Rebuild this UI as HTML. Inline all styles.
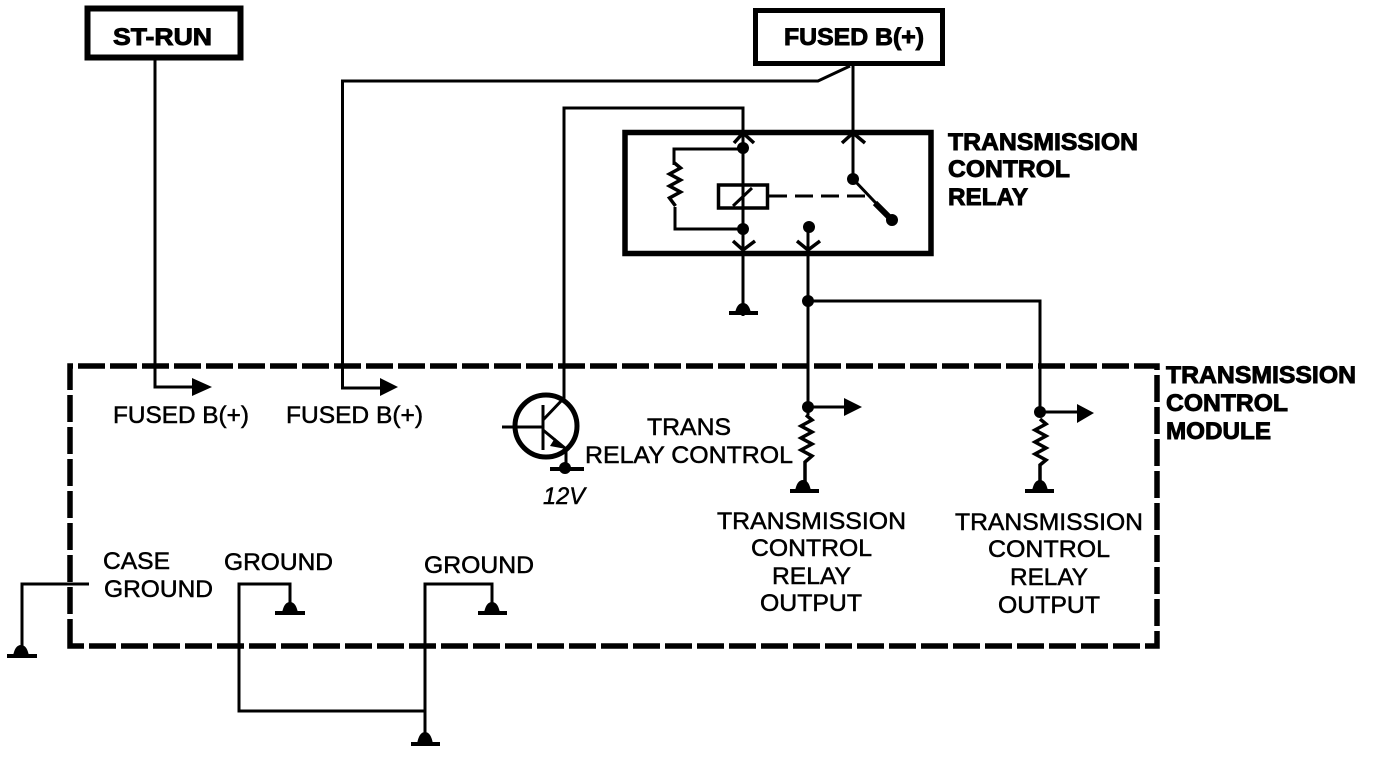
<!DOCTYPE html>
<html><head><meta charset="utf-8"><style>
html,body{margin:0;padding:0;background:#fff}
svg{display:block}
text{font-family:"Liberation Sans",sans-serif;font-size:24px;fill:#000;stroke:#000;stroke-width:.5px}
.b{font-weight:bold;stroke-width:.9px}
</style></head><body>
<svg width="1376" height="762" viewBox="0 0 1376 762" xmlns="http://www.w3.org/2000/svg">
<g fill="none" stroke="#000" stroke-width="3">
<!-- boxes -->
<rect x="87.500" y="8.500" width="153" height="49" stroke-width="6"/>
<rect x="755.500" y="10.500" width="187" height="53" stroke-width="5"/>
<rect x="625" y="132.500" width="306" height="121" stroke-width="5.500"/>
<path d="M70 646V366H1157V646Z" stroke-width="5.500" stroke-dasharray="27 5"/>
<!-- wires -->
<path d="M155 58V387H195"/>
<path d="M853 65V179M850 66L818 81H342.500V388H382"/>
<path d="M564 400V108H743V316"/>
<path d="M743 149H674V165M675 207V229H743"/>
<path d="M674.500 163l6 5l-11 6l11 6l-11 6l11 6l-11 6l6 8" stroke-width="3.500"/>
<rect x="718.500" y="185" width="49" height="23" stroke-width="3.500"/>
<path d="M733 206L752 188"/>
<path d="M769 196H872" stroke-dasharray="18 8"/>
<path d="M853 179L892 220"/><path d="M875 203L890 218" stroke-width="6"/>
<path d="M734 143L743 133L754 143M842 143L853 133L865 143M733 241L743 250L755 241M797 241L808 250L820 241" stroke-width="3.500"/>
<path d="M808 227V415M808 301H1040V415M808 407H848M1040 412H1078"/>
<path d="M806 415l6 5l-11 6l11 6l-11 6l11 6l-11 6l11 6l-7 6V486" stroke-width="3.500"/>
<path d="M1040 419l6 5l-11 6l11 6l-11 6l11 6l-11 6l11 6l-6 5V486" stroke-width="3.500"/>
<!-- bottom -->
<path d="M22 650V584H89"/>
<path d="M290 610V584H239V711H425M492 610V584H425V740"/>
<!-- transistor -->
<circle cx="546" cy="426" r="31" stroke-width="5"/>
<path d="M543 405V450M502 427H543M543 420L564 398M543 430L566 449M566 449V468"/>
<path d="M550 469H584M790 491H819M1025 491H1054M729 313H758M7 656H37M275 613H305M478 613H507M411 744H440" stroke-width="4"/>
</g>
<g fill="#000">
<circle cx="743" cy="148" r="6"/><circle cx="743" cy="229" r="6"/><circle cx="853" cy="179" r="6"/><circle cx="892" cy="220" r="6"/>
<circle cx="809" cy="227" r="6"/><circle cx="808" cy="301" r="6"/><circle cx="808" cy="407" r="6"/><circle cx="1040" cy="412" r="6"/>
<circle cx="565" cy="468" r="6"/>
<path d="M795 491Q797 480 803 480Q809 480 811 491ZM1032 491Q1034 480 1040 480Q1046 480 1048 491ZM735 313Q737 303 743 303Q749 303 751 313ZM13 656Q15 645 21 645Q27 645 29 656ZM282 613Q284 602 290 602Q296 602 298 613ZM484 613Q486 602 492 602Q498 602 500 613ZM417 744Q419 732 425 732Q431 732 433 744Z"/>
<path d="M192 378L212 387L192 396ZM380 378L398 387L380 396ZM844 398L862 407L844 416ZM1077 404L1094 413L1077 423Z"/>
<path d="M555 438L566 449L550 446Z"/>
</g>
<text class="b" lengthAdjust="spacingAndGlyphs" x="113" y="45" textLength="99">ST-RUN</text>
<text class="b" lengthAdjust="spacingAndGlyphs" x="784" y="45" textLength="140">FUSED B(+)</text>
<text class="b" lengthAdjust="spacingAndGlyphs" x="948" y="150" textLength="190">TRANSMISSION</text>
<text class="b" lengthAdjust="spacingAndGlyphs" x="948" y="177" textLength="122">CONTROL</text>
<text class="b" lengthAdjust="spacingAndGlyphs" x="948" y="205" textLength="80">RELAY</text>
<text class="b" lengthAdjust="spacingAndGlyphs" x="1166" y="383" textLength="190">TRANSMISSION</text>
<text class="b" lengthAdjust="spacingAndGlyphs" x="1166" y="411" textLength="122">CONTROL</text>
<text class="b" lengthAdjust="spacingAndGlyphs" x="1166" y="439" textLength="105">MODULE</text>
<text lengthAdjust="spacingAndGlyphs" x="113" y="423" textLength="136">FUSED B(+)</text>
<text lengthAdjust="spacingAndGlyphs" x="286" y="423" textLength="137">FUSED B(+)</text>
<text lengthAdjust="spacingAndGlyphs" x="647" y="435" textLength="84">TRANS</text>
<text lengthAdjust="spacingAndGlyphs" x="585" y="463" textLength="208">RELAY CONTROL</text>
<text lengthAdjust="spacingAndGlyphs" x="543" y="504" textLength="42" style="font-style:italic">12V</text>
<text lengthAdjust="spacingAndGlyphs" x="717" y="529" textLength="189">TRANSMISSION</text>
<text lengthAdjust="spacingAndGlyphs" x="751" y="556" textLength="121">CONTROL</text>
<text lengthAdjust="spacingAndGlyphs" x="772" y="584" textLength="79">RELAY</text>
<text lengthAdjust="spacingAndGlyphs" x="760" y="611" textLength="102">OUTPUT</text>
<text lengthAdjust="spacingAndGlyphs" x="955" y="530" textLength="188">TRANSMISSION</text>
<text lengthAdjust="spacingAndGlyphs" x="988" y="557" textLength="122">CONTROL</text>
<text lengthAdjust="spacingAndGlyphs" x="1010" y="585" textLength="78">RELAY</text>
<text lengthAdjust="spacingAndGlyphs" x="998" y="613" textLength="102">OUTPUT</text>
<text lengthAdjust="spacingAndGlyphs" x="103" y="569" textLength="67">CASE</text>
<text lengthAdjust="spacingAndGlyphs" x="104" y="597" textLength="109">GROUND</text>
<text lengthAdjust="spacingAndGlyphs" x="224" y="570" textLength="109">GROUND</text>
<text lengthAdjust="spacingAndGlyphs" x="424" y="573" textLength="110">GROUND</text>
</svg>
</body></html>
